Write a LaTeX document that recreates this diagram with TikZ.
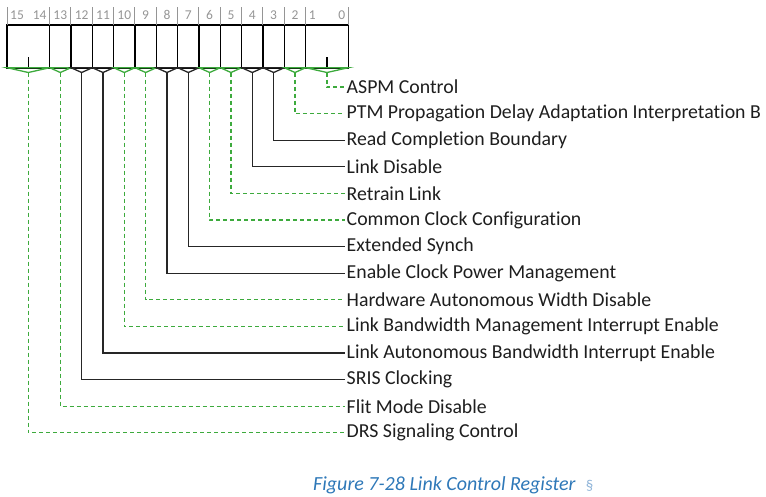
\documentclass[tikz,border=0pt]{standalone}
\usepackage{fontspec}
\setmainfont{Carlito}[RawFeature={-liga;-clig;-dlig;-calt}]
\definecolor{fgreen}{HTML}{3DAA3D}
\definecolor{tgray}{HTML}{959595}
\definecolor{txt}{HTML}{1E1E1E}
\definecolor{capblue}{HTML}{2E78B8}
\definecolor{secblue}{HTML}{8FB4D8}
\def\zk{\kern0pt }
\begin{document}
\begin{tikzpicture}[x=1pt,y=-1pt,
  lbl/.style={anchor=west,inner sep=0pt,text=txt,font=\fontsize{19.8}{21}\selectfont},
  bitnum/.style={inner sep=0pt,text=tgray,font=\fontsize{13.5}{14}\selectfont},
  gtick/.style={draw=tgray,line width=1pt},
  boxline/.style={draw=black,line width=1.6pt},
  gfield/.style={draw=fgreen,line width=1.3pt},
  bfield/.style={draw=black!85,line width=1.3pt},
  gleader/.style={draw=fgreen,line width=1.3pt,dash pattern=on 4pt off 3pt},
  bleader/.style={draw=black!85,line width=1.3pt}]
\useasboundingbox (0,0) rectangle (766,496);
\def\bw{21.333}
% register box
\coordinate (TL) at (7,25);
\coordinate (BR) at (348.3,67.7);
\draw[boxline] (TL) rectangle (BR);
% divider lines and top ticks
\foreach \i in {0,2,3,4,5,6,7,8,9,10,11,12,13,14,16}{
  \coordinate (t\i) at ({7+\i*\bw},7);
  \coordinate (u\i) at ({7+\i*\bw},25);
  \coordinate (d\i) at ({7+\i*\bw},67.7);
  \draw[gtick] (t\i) -- (u\i);
}
\foreach \i in {2,3,4,5,6,7,8,9,10,11,12,13,14}{
  \draw[boxline] (u\i) -- (d\i);
}
% bit numbers
\node[bitnum,anchor=west] (n15) at ({7+3},15) {15};
\node[bitnum,anchor=east] (n14) at ({7+2*\bw-3},15) {14};
\foreach \i/\b in {2/13,3/12,4/11,5/10,6/9,7/8,8/7,9/6,10/5,11/4,12/3,13/2}{
  \node[bitnum] (n\b) at ({7+(\i+0.5)*\bw},15) {\b};
}
\node[bitnum,anchor=west] (n1) at ({7+14*\bw+3},15) {1};
\node[bitnum,anchor=east] (n0) at ({7+16*\bw-3},15) {0};
% inner ticks of two-bit fields
\coordinate (ia) at ({7+\bw},57); \coordinate (ib) at ({7+\bw},67.7);
\draw[black,line width=1.3pt] (ia) -- (ib);
\coordinate (ic) at ({7+15*\bw},57); \coordinate (id) at ({7+15*\bw},67.7);
\draw[black,line width=1.3pt] (ic) -- (id);
% labels
\foreach \r/\t in {1/ASPM Control,2/PTM Propagat\zk ion Delay Adaptat\zk ion Interpretat\zk ion B,3/Read Complet\zk ion Boundary,4/Link Disable,5/Retrain Link,6/Common Clock Conf\zk igurat\zk ion,7/Extended Synch,8/Enable Clock Power Management,9/Hardware Autonomous Width Disable,10/Link Bandwidth Management Interrupt Enable,11/Link Autonomous Bandwidth Interrupt Enable,12/SRIS Clocking,13/Flit Mode Disable,14/DRS Signaling Control}{
  \node[lbl] (L\r) at (346.5,{87+(\r-1)*26.6}) {\t};
}
% field brackets and leaders: left index, right index, row, style
\foreach \a/\b/\r/\s in {0/2/14/g,2/3/13/g,3/4/12/b,4/5/11/b,5/6/10/g,6/7/9/g,7/8/8/b,8/9/7/b,9/10/6/g,10/11/5/g,11/12/4/b,12/13/3/b,13/14/2/g,14/16/1/g}{
  \coordinate (A\r) at ({7+(\a+\b)/2*\bw},72.5);
  \coordinate (K\r) at ({7+(\a+\b)/2*\bw},{87+(\r-1)*26.6});
  \draw[\s field,line join=miter] (d\a) -- (d\b) -- (A\r) -- cycle;
  \draw[\s leader] (A\r) -- (K\r) -- ([xshift=-2pt]L\r.west);
}
% caption
\node[inner sep=0pt,anchor=base west,text=capblue,font=\fontsize{20}{22}\itshape] (cap) at (313,490) {Figure 7-28 Link Control Register};
\node[inner sep=0pt,anchor=base west,text=secblue,font=\fontsize{15}{16}\selectfont] (sec) at ([xshift=10pt]cap.base east) {§};
\end{tikzpicture}
\end{document}
